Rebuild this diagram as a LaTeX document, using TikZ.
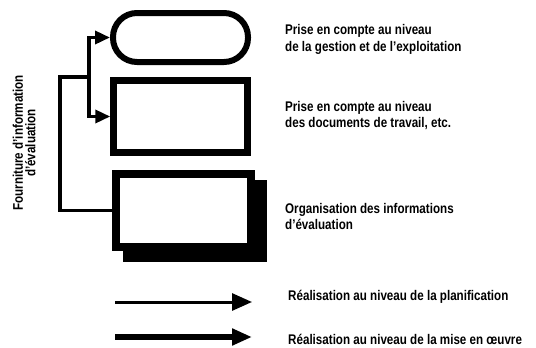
\documentclass[tikz,border=0pt]{standalone}
\usepackage{fontspec}
\setmainfont{Liberation Sans}[FakeStretch=0.83, BoldFont={* Bold}, BoldFeatures={FakeStretch=0.83}]
\usetikzlibrary{arrows.meta}

\tikzset{
  pillbox/.style={draw=black, fill=white, line width=6pt, outer sep=3pt,
    rounded corners=24pt, minimum width=135pt, minimum height=49pt, inner sep=0pt},
  framebox/.style={draw=black, fill=white, line width=6.5pt, outer sep=3.25pt,
    minimum width=134pt, minimum height=72pt, inner sep=0pt},
  heavybox/.style={draw=black, fill=white, line width=8pt, outer sep=4pt,
    minimum width=135pt, minimum height=73pt, inner sep=0pt},
  caption/.style={anchor=north west, inner sep=0pt, align=left,
    font=\fontsize{14}{16.5}\selectfont\bfseries},
  sidecaption/.style={inner sep=0pt, align=center, rotate=90,
    font=\fontsize{14}{12.5}\selectfont\bfseries},
  link/.style={line width=3.5pt, line join=miter},
  linkarrow/.style={link, -{Triangle[length=15pt,width=13pt]}},
  planarrow/.style={line width=3pt, -{Triangle[length=20pt,width=17pt]}},
  runarrow/.style={line width=6pt, -{Triangle[length=20pt,width=16pt]}},
}

\begin{document}
\begin{tikzpicture}[x=1pt, y=-1pt]
  \path[use as bounding box, fill=white] (0,0) rectangle (536,348);

  % the three stages
  \node[pillbox] (mgmt) at (180.5,37.5) {};
  \node[framebox] (docs) at (180.5,116.5) {};
  \fill[black] (123,180) rectangle (267,262);
  \node[heavybox] (org) at (183.5,210.5) {};

  % stage captions
  \node[caption] (mgmtlabel) at (285,24.5)
    {Prise en compte au niveau\\de la gestion et de l'exploitation};
  \node[caption] (docslabel) at (285,101)
    {Prise en compte au niveau\\des documents de travail, etc.};
  \node[caption] (orglabel) at (285,203)
    {Organisation des informations\\d'évaluation};

  % feedback of evaluation information
  \coordinate (corner) at (60,77);
  \coordinate (split) at (89,77);
  \draw[link] (org.west) -| (corner) -- (split);
  \draw[linkarrow] (split) |- (mgmt.west);
  \draw[linkarrow] (split) |- (docs.west);
  \node[sidecaption] (feedlabel) at (24,143)
    {Fourniture d'information\\d'évaluation};

  % legend
  \coordinate (planstart) at (115,302);
  \coordinate (planend) at (252,302);
  \coordinate (runstart) at (115,337);
  \coordinate (runend) at (252,337);
  \draw[planarrow] (planstart) -- (planend);
  \draw[runarrow] (runstart) -- (runend);
  \node[caption] (planlabel) at (288,290)
    {Réalisation au niveau de la planification};
  \node[caption] (runlabel) at (288,334.5)
    {Réalisation au niveau de la mise en œuvre};
\end{tikzpicture}
\end{document}
